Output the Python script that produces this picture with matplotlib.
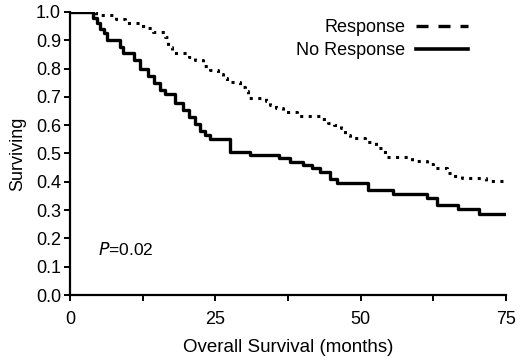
import matplotlib
matplotlib.use('Agg')
import matplotlib.pyplot as plt
from matplotlib.lines import Line2D
from matplotlib.ticker import MultipleLocator

plt.rcParams['font.family'] = ['Liberation Sans', 'DejaVu Sans']

# Kaplan-Meier steps: (month, survival after the drop)
resp_t = [0, 4.5, 8.0, 9.5, 12.0, 13.2, 14.3, 16.3, 16.8, 17.5, 20.5, 21.5, 22.8,
          24.0, 25.5, 26.3, 27.0, 29.2, 30.1, 30.6, 33.8, 34.4, 35.5, 36.6, 39.0,
          43.3, 44.3, 45.5, 46.7, 47.3, 48.1, 50.7, 52.7, 53.8, 54.6, 58.8, 61.5,
          62.4, 64.8, 65.8, 67.4, 71.6, 75]
resp_s = [1.0, 0.99, 0.975, 0.96, 0.95, 0.945, 0.93, 0.91, 0.875, 0.855, 0.84, 0.83, 0.81,
          0.795, 0.78, 0.765, 0.753, 0.735, 0.72, 0.696, 0.685, 0.671, 0.66, 0.647, 0.633,
          0.622, 0.608, 0.60, 0.59, 0.565, 0.555, 0.54, 0.52, 0.505, 0.488, 0.473, 0.463,
          0.449, 0.431, 0.42, 0.413, 0.403, 0.403]

noresp_t = [0, 4.0, 4.6, 5.2, 5.8, 6.3, 8.6, 9.2, 11.0, 12.0, 13.5, 14.5, 15.5, 16.3,
            18.0, 19.5, 20.5, 21.5, 22.3, 23.3, 24.0, 27.5, 31.0, 36.0, 37.8, 40.0,
            41.6, 43.0, 44.7, 46.0, 51.2, 55.5, 61.5, 63.2, 66.7, 70.4, 75]
noresp_s = [1.0, 0.98, 0.96, 0.94, 0.925, 0.90, 0.875, 0.855, 0.83, 0.80, 0.775, 0.75, 0.725, 0.71,
            0.68, 0.655, 0.63, 0.605, 0.58, 0.565, 0.55, 0.505, 0.495, 0.485, 0.47, 0.46,
            0.45, 0.435, 0.41, 0.395, 0.37, 0.357, 0.343, 0.318, 0.304, 0.286, 0.286]

fig = plt.figure(figsize=(5.2, 3.62), dpi=100)
ax = fig.add_axes([0.1346, 0.185, 0.8384, 0.782])

ax.step(resp_t, resp_s, where='post', color='black', lw=2.2, linestyle=(0, (1, 1.8)))
ax.step(noresp_t, noresp_s, where='post', color='black', lw=2.4)

ax.set_xlim(0, 75)
ax.set_ylim(0, 1.0)
ax.xaxis.set_major_locator(MultipleLocator(25))
ax.xaxis.set_minor_locator(MultipleLocator(12.5))
ax.yaxis.set_major_locator(MultipleLocator(0.1))
ax.yaxis.set_major_formatter(matplotlib.ticker.FormatStrFormatter('%.1f'))

for s in ['top', 'right']:
    ax.spines[s].set_visible(False)
for s in ['left', 'bottom']:
    ax.spines[s].set_linewidth(1.6)
ax.tick_params(which='both', direction='out', length=4.5, width=1.4, labelsize=13, pad=2)
ax.tick_params(axis='x', pad=7)

ax.set_xlabel('Overall Survival (months)', fontsize=13.5, labelpad=8)
ax.set_ylabel('Surviving', fontsize=13, labelpad=7)

ax.text(4.8, 0.16, r'$\it{P}$=0.02', fontsize=12.5, va='center', ha='left')

handles = [Line2D([], [], color='black', lw=2.4, linestyle=(0, (3.6, 3))),
           Line2D([], [], color='black', lw=2.6)]
ax.legend(handles, ['Response', 'No Response'], loc='upper right', frameon=False,
          markerfirst=False, fontsize=13, handlelength=2.9, handletextpad=0.6,
          labelspacing=0.35, bbox_to_anchor=(0.93, 1.0), borderaxespad=0)

fig.savefig('out.png', dpi=100)
